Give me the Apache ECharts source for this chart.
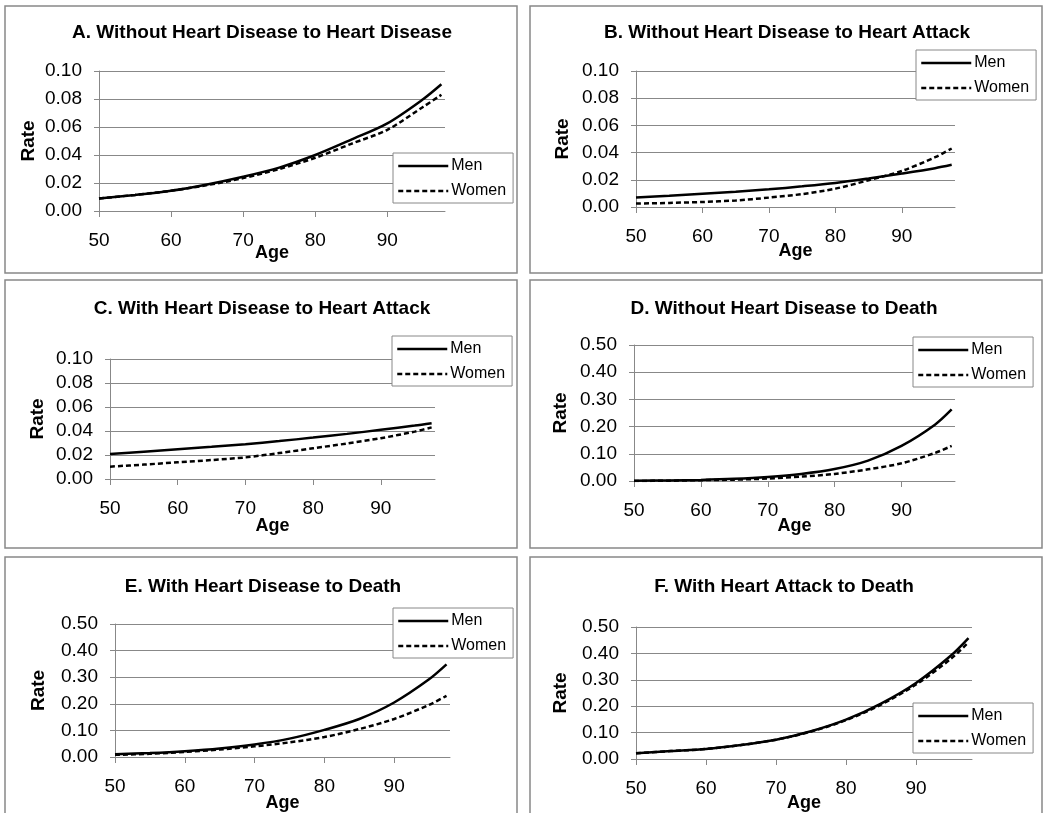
<!DOCTYPE html>
<html>
<head>
<meta charset="utf-8">
<script src="https://cdn.jsdelivr.net/npm/echarts@6/dist/echarts.min.js"></script>
<style>
html,body{margin:0;padding:0;background:#fff;}
#chart{width:1050px;height:813px;}
</style>
</head>
<body>
<div id="chart"></div>
<script>
// ---- data ----
const ages = [50, 55, 60, 65, 70, 75, 80, 85, 90, 95, 97.5];
const xTicks = [50, 60, 70, 80, 90];
const seriesNames = ['Men', 'Women'];
const titles = [
  'A. Without Heart Disease to Heart Disease',
  'B. Without Heart Disease to Heart Attack',
  'C. With Heart Disease to Heart Attack',
  'D. Without Heart Disease to Death',
  'E. With Heart Disease to Death',
  'F. With Heart Attack to Death'
];
const yMax = [0.10, 0.10, 0.10, 0.50, 0.50, 0.50];
const yStep = [0.02, 0.02, 0.02, 0.10, 0.10, 0.10];

const menA   = [0.009, 0.0115, 0.0145, 0.019, 0.0245, 0.031, 0.040, 0.051, 0.0626, 0.080, 0.0905];
const womenA = [0.009, 0.0115, 0.0145, 0.0185, 0.0235, 0.030, 0.038, 0.048, 0.058, 0.0745, 0.083];
const menB   = [0.0069, 0.0083, 0.0098, 0.0113, 0.013, 0.0152, 0.0177, 0.021, 0.0246, 0.0285, 0.031];
const womenB = [0.0025, 0.003, 0.0037, 0.0048, 0.0069, 0.0095, 0.0135, 0.0197, 0.0265, 0.0366, 0.043];
const menC   = [0.0209, 0.0228, 0.0248, 0.0268, 0.029, 0.0316, 0.0345, 0.0376, 0.041, 0.0445, 0.0465];
const womenC = [0.0103, 0.012, 0.0139, 0.0158, 0.018, 0.0216, 0.0256, 0.0296, 0.034, 0.0395, 0.043];
const menD   = [0.001, 0.002, 0.004, 0.008, 0.015, 0.026, 0.044, 0.075, 0.129, 0.207, 0.263];
const womenD = [0.000, 0.001, 0.003, 0.005, 0.009, 0.016, 0.026, 0.043, 0.065, 0.103, 0.129];
const menE   = [0.010, 0.015, 0.022, 0.032, 0.047, 0.069, 0.102, 0.143, 0.205, 0.292, 0.348];
const womenE = [0.008, 0.012, 0.019, 0.028, 0.040, 0.055, 0.075, 0.105, 0.143, 0.196, 0.230];
const menF   = [0.022, 0.030, 0.038, 0.053, 0.073, 0.105, 0.149, 0.210, 0.288, 0.392, 0.458];
const womenF = [0.022, 0.030, 0.038, 0.053, 0.073, 0.104, 0.147, 0.206, 0.282, 0.380, 0.442];
const menData = [menA, menB, menC, menD, menE, menF];
const womenData = [womenA, womenB, womenC, womenD, womenE, womenF];

// ---- layout ----
const FONT = '"Liberation Sans", Arial, sans-serif';
const layout = [
  {grid:[99,71,346,140],  legend:[393,153], title:[262,33],  rateGap:61, ageGap:33, box:[5,6,512,267]},
  {grid:[636,71,319,136], legend:[916,50],  title:[787,33],  rateGap:64, ageGap:35, box:[530,6,512,267]},
  {grid:[110,359,325,120],legend:[392,336], title:[262,309], rateGap:63, ageGap:38, box:[5,280,512,268]},
  {grid:[634,345,321,136],legend:[913,337], title:[784,309], rateGap:64, ageGap:36, box:[530,280,512,268]},
  {grid:[115,624,335,134],legend:[393,608], title:[263,587], rateGap:67, ageGap:37, box:[5,557,512,270]},
  {grid:[636,627,336,132],legend:[913,703], title:[784,587], rateGap:66, ageGap:35, box:[530,557,512,270]}
];

const grids = [], xAxes = [], yAxes = [], series = [], legends = [], graphics = [];
layout.forEach((L, i) => {
  grids.push({left:L.grid[0], top:L.grid[1], width:L.grid[2], height:L.grid[3], containLabel:false});
  xAxes.push({
    type:'value', gridIndex:i, min:50, max:98, interval:10,
    axisLine:{show:true, lineStyle:{color:'#888', width:1}},
    axisTick:{show:true, length:6, lineStyle:{color:'#888'}, customValues:xTicks},
    axisLabel:{fontSize:19, fontFamily:FONT, color:'#000', margin:20, customValues:xTicks},
    splitLine:{show:false},
    name:'Age', nameLocation:'middle', nameGap:L.ageGap, nameMoveOverlap:false,
    nameTextStyle:{fontSize:18, fontWeight:'bold', fontFamily:FONT, color:'#000'}
  });
  yAxes.push({
    type:'value', gridIndex:i, min:0, max:yMax[i], interval:yStep[i],
    axisLine:{show:true, lineStyle:{color:'#888', width:1}},
    axisTick:{show:true, length:5, lineStyle:{color:'#888'}},
    axisLabel:{fontSize:19, fontFamily:FONT, color:'#000', margin:17, formatter:v => v.toFixed(2)},
    splitLine:{show:true, lineStyle:{color:'#888', width:1}},
    name:'Rate', nameLocation:'middle', nameGap:L.rateGap, nameMoveOverlap:false,
    nameTextStyle:{fontSize:19, fontWeight:'bold', fontFamily:FONT, color:'#000'}
  });
  series.push({
    name:seriesNames[0], type:'line', xAxisIndex:i, yAxisIndex:i, smooth:0.3, symbol:'none',
    data: ages.map((a, j) => [a, menData[i][j]]),
    lineStyle:{color:'#000', width:2.5, type:'solid'}, itemStyle:{color:'#000'}, z:3
  });
  series.push({
    name:seriesNames[1], type:'line', xAxisIndex:i, yAxisIndex:i, smooth:0.3, symbol:'none',
    data: ages.map((a, j) => [a, womenData[i][j]]),
    lineStyle:{color:'#000', width:2.5, type:[5,3]}, itemStyle:{color:'#000'}, z:2
  });
  legends.push({
    left:L.legend[0], top:L.legend[1], orient:'vertical', data:seriesNames,
    itemWidth:50, itemHeight:14, itemGap:9, padding:[5,7,4,4],
    borderColor:'#888', borderWidth:1, backgroundColor:'#fff', borderRadius:0,
    selectedMode:false,
    itemStyle:{opacity:0, color:'transparent', borderWidth:0},
    lineStyle:{width:2.5},
    textStyle:{fontSize:16, fontFamily:FONT, color:'#000', padding:[0,0,0,-2]}
  });
  graphics.push({
    type:'rect', shape:{x:L.box[0], y:L.box[1], width:L.box[2], height:L.box[3]},
    style:{fill:'none', stroke:'#888', lineWidth:1.5}, z:-10, silent:true
  });
  graphics.push({
    type:'text', x:L.title[0], y:L.title[1], silent:true,
    style:{text:titles[i], textAlign:'center', textVerticalAlign:'middle',
      font:'bold 19px ' + FONT, fill:'#000'}
  });
});

const chart = echarts.init(document.getElementById('chart'), null, {renderer:'canvas'});
chart.setOption({
  animation:false,
  backgroundColor:'#fff',
  grid:grids, xAxis:xAxes, yAxis:yAxes, series:series, legend:legends, graphic:graphics
});
</script>
</body>
</html>
